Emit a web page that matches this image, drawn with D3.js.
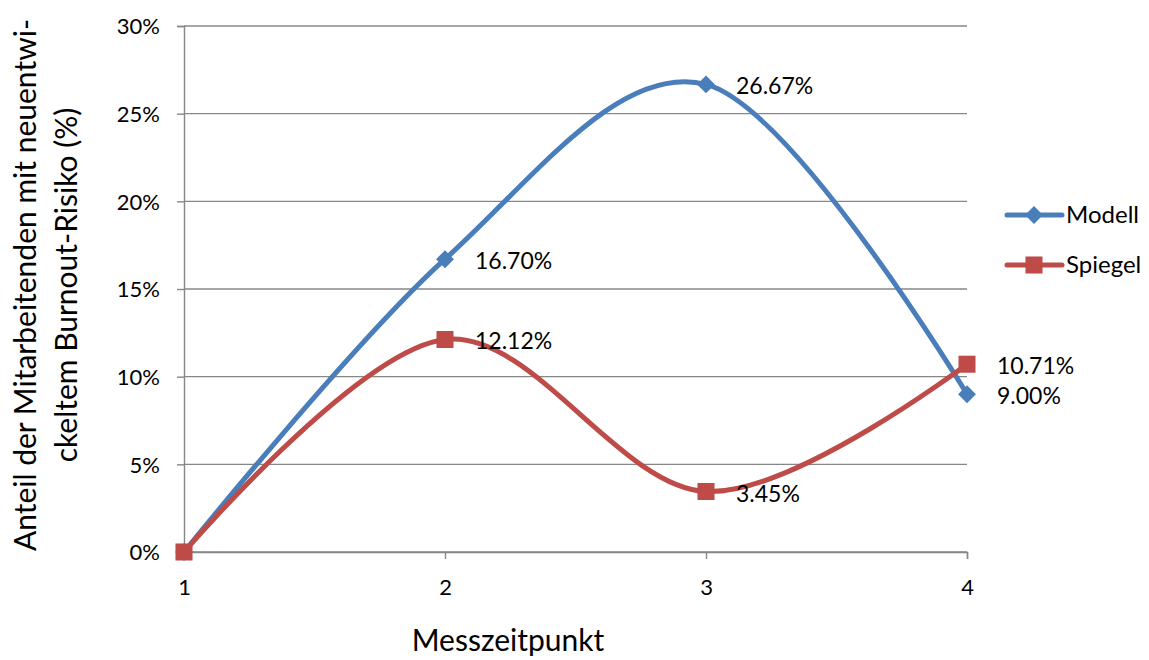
<!DOCTYPE html>
<html>
<head>
<meta charset="utf-8">
<script src="https://cdn.jsdelivr.net/npm/d3@7"></script>
<style>
  html, body { margin: 0; padding: 0; background: #fff; }
  svg { display: block; font-family: Lato, "Open Sans", sans-serif; }
</style>
</head>
<body>
<svg id="chart" width="1149" height="660"></svg>
<script>
// Measurement points and share of staff with newly developed burnout risk
const categories = [1, 2, 3, 4];
const modell = [0, 16.70, 26.67, 9.00];
const spiegel = [0, 12.12, 3.45, 10.71];
const yTicks = [0, 5, 10, 15, 20, 25, 30];
const seriesNames = ["Modell", "Spiegel"];

const colors = { Modell: "#4A7EBB", Spiegel: "#BE4B48" };
const gridColor = "#878787";

const svg = d3.select("#chart");
const margin = { left: 184, right: 182, top: 26, bottom: 108 };
const W = 1149, H = 660;

const x = d3.scalePoint().domain(categories).range([margin.left, W - margin.right]);
const y = d3.scaleLinear().domain([0, 30]).range([H - margin.bottom, margin.top]);

// A square turned 45 degrees, as used for the Modell markers
const diamond = {
  draw(context, size) {
    const r = Math.sqrt(size / 2);
    context.moveTo(0, -r);
    context.lineTo(r, 0);
    context.lineTo(0, r);
    context.lineTo(-r, 0);
    context.closePath();
  }
};

// Horizontal gridlines
svg.append("g")
  .selectAll("line")
  .data(yTicks)
  .join("line")
  .attr("x1", margin.left).attr("x2", W - margin.right)
  .attr("y1", d => y(d)).attr("y2", d => y(d))
  .attr("stroke", gridColor).attr("stroke-width", 1.4);

// Y axis
const yAxis = svg.append("g")
  .attr("transform", `translate(${margin.left},0)`)
  .call(d3.axisLeft(y).tickValues(yTicks).tickFormat(d => d + "%").tickSize(7).tickPadding(17));
yAxis.select(".domain").attr("stroke", gridColor).attr("stroke-width", 1.4);
yAxis.selectAll(".tick line").attr("stroke", gridColor).attr("stroke-width", 1.4);
yAxis.selectAll("text").attr("font-size", 22).attr("fill", "#000")
  .attr("font-family", "Lato, sans-serif").attr("dy", "0.36em");

// X axis
const xAxis = svg.append("g")
  .attr("transform", `translate(0,${y(0)})`)
  .call(d3.axisBottom(x).tickSize(7));
xAxis.select(".domain").attr("stroke", gridColor).attr("stroke-width", 1.4);
xAxis.selectAll(".tick line").attr("stroke", gridColor).attr("stroke-width", 1.4);
xAxis.selectAll("text").attr("font-size", 22).attr("fill", "#000")
  .attr("font-family", "Lato, sans-serif").attr("y", 43).attr("dy", 0);

// Axis titles
svg.append("text")
  .attr("x", 508).attr("y", 651)
  .attr("text-anchor", "middle").attr("font-size", 30)
  .text("Messzeitpunkt");

const yTitle = svg.append("text")
  .attr("transform", `translate(0,285) rotate(-90)`)
  .attr("text-anchor", "middle").attr("font-size", 30);
yTitle.append("tspan").attr("x", 0).attr("y", 36).text("Anteil der Mitarbeitenden mit neuentwi-");
yTitle.append("tspan").attr("x", 0).attr("y", 77).text("ckeltem Burnout-Risiko (%)");

// Smoothed series lines
const line = d3.line()
  .x((d, i) => x(categories[i]))
  .y(d => y(d))
  .curve(d3.curveCardinal.tension(0));

const series = [
  { name: "Modell", values: modell, symbol: diamond, size: 160 },
  { name: "Spiegel", values: spiegel, symbol: d3.symbolSquare, size: 290 }
];

series.forEach(s => {
  svg.append("path")
    .datum(s.values)
    .attr("d", line)
    .attr("fill", "none")
    .attr("stroke", colors[s.name])
    .attr("stroke-width", 5)
    .attr("stroke-linecap", "round");
});

series.forEach(s => {
  svg.append("g").selectAll("path")
    .data(s.values)
    .join("path")
    .attr("transform", (d, i) => `translate(${x(categories[i])},${y(d)})`)
    .attr("d", d3.symbol().type(s.symbol).size(s.size))
    .attr("fill", colors[s.name]);

  svg.append("g").selectAll("text")
    .data(s.values.map((v, i) => ({ v, i })).filter(d => d.i > 0))
    .join("text")
    .attr("x", d => x(categories[d.i]) + 30)
    .attr("y", d => y(d.v) + 10)
    .attr("font-size", 23)
    .text(d => d.v.toFixed(2) + "%");
});

// Legend
const legend = svg.append("g").attr("transform", "translate(1007,215)");
seriesNames.forEach((name, i) => {
  const s = series.find(d => d.name === name);
  const g = legend.append("g").attr("transform", `translate(0,${i * 50})`);
  g.append("line").attr("x1", 0).attr("x2", 55).attr("y1", 0).attr("y2", 0)
    .attr("stroke", colors[name]).attr("stroke-width", 5).attr("stroke-linecap", "round");
  g.append("path").attr("transform", "translate(27,0)")
    .attr("d", d3.symbol().type(s.symbol).size(s.size)).attr("fill", colors[name]);
  g.append("text").attr("x", 59).attr("y", 8).attr("font-size", 24).text(name);
});
</script>
</body>
</html>
